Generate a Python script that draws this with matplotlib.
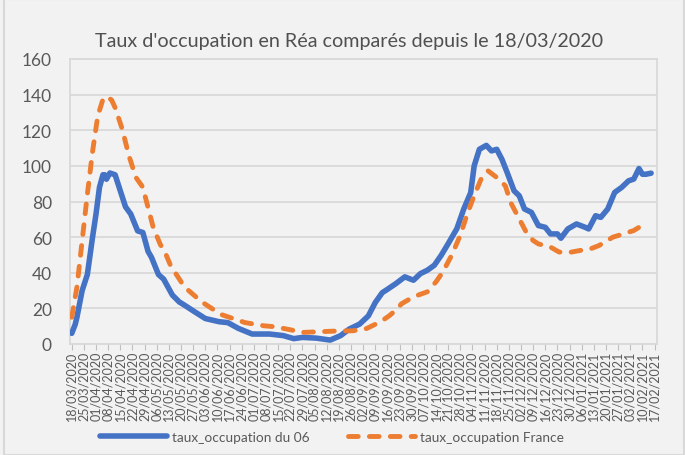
import datetime as dt
import matplotlib
matplotlib.use("Agg")
import matplotlib.pyplot as plt
from matplotlib.lines import Line2D
from matplotlib.patches import Rectangle

title = "Taux d'occupation en Réa comparés depuis le 18/03/2020"
label_06 = "taux_occupation du 06"
label_fr = "taux_occupation France"

start = dt.date(2020, 3, 18)

# days since 18/03/2020
days_06 = [0, 2, 3, 6, 9, 12, 14, 16, 18, 19, 20, 22, 25, 28, 31, 34, 38, 41, 44, 46,
           50, 53, 58, 62, 65, 71, 77, 85, 90, 96, 104, 111, 114, 122, 128, 133, 141,
           149, 155, 160, 166, 171, 175, 179, 182, 187, 192, 197, 201, 205, 209, 213,
           217, 222, 226, 230, 232, 235, 239, 242, 245, 248, 251, 255, 258, 261, 265,
           269, 273, 276, 280, 282, 286, 291, 296, 298, 302, 305, 309, 313, 317, 321,
           324, 327, 329, 331, 334]
occ_06 = [6, 11, 15, 30, 39, 60, 73, 88, 95, 95, 92.5, 96, 95, 86, 77, 73, 63.5, 62.6,
          52, 48.6, 39, 36.4, 27.5, 23.6, 21.8, 18, 14.3, 12.5, 12, 8.8, 5.6, 5.6, 5.6,
          4.7, 3, 3.7, 3.3, 2.2, 4.7, 8.4, 11.2, 15.8, 23.3, 28.8, 30.7, 34, 37.7, 35.8,
          39.5, 41.4, 44.2, 49.8, 56.3, 64.7, 75.8, 85, 100, 109.3, 111.5, 108.4, 109.3,
          103.7, 96.3, 86, 83.2, 75.8, 73.9, 66.5, 65.5, 61.8, 61.8, 59.4, 64.6, 67.4,
          65.5, 64.6, 72, 71.1, 75.8, 85.1, 87.9, 91.6, 92.6, 98.5, 95.3, 95.3, 95.9]

days_fr = [0, 3, 6, 9, 12, 15, 18, 20, 23, 25, 29, 33, 37, 41, 44, 47, 51, 54, 57, 59,
           65, 75, 86, 100, 111, 117, 126, 133, 143, 153, 162, 170, 178, 183, 188, 190,
           197, 205, 210, 214, 219, 224, 228, 232, 236, 240, 245, 250, 253, 258, 262,
           266, 269, 276, 281, 288, 293, 299, 304, 312, 318, 324, 328]
occ_fr = [15, 32, 58, 84, 108, 128, 137.4, 139, 137, 132.7, 121, 105.6, 93.5, 88, 76.6,
          65.4, 56, 51, 44, 41, 32, 23.6, 16.6, 12, 10.2, 9.7, 8, 6.5, 6.9, 7.3, 7.4,
          8.7, 12.5, 15.8, 20, 22.5, 26.5, 29.3, 34.9, 40.5, 49.8, 61, 73, 83.3, 92.6,
          97.2, 93.5, 88.8, 79.5, 70.2, 62.8, 58.1, 56.2, 54.4, 51.6, 51.6, 52.5, 53.4,
          55.3, 60, 61.8, 63.7, 66.1]

tick_labels = ["18/03/2020", "25/03/2020", "01/04/2020", "08/04/2020", "15/04/2020",
               "22/04/2020", "29/04/2020", "06/05/2020", "13/05/2020", "20/05/2020",
               "27/05/2020", "03/06/2020", "10/06/2020", "17/06/2020", "24/06/2020",
               "01/07/2020", "08/07/2020", "15/07/2020", "22/07/2020", "29/07/2020",
               "05/08/2020", "12/08/2020", "19/08/2020", "26/08/2020", "02/09/2020",
               "09/09/2020", "16/09/2020", "23/09/2020", "30/09/2020", "07/10/2020",
               "14/10/2020", "21/10/2020", "28/10/2020", "04/11/2020", "11/11/2020",
               "18/11/2020", "25/11/2020", "02/12/2020", "09/12/2020", "16/12/2020",
               "23/12/2020", "30/12/2020", "06/01/2021", "13/01/2021", "20/01/2021",
               "27/01/2021", "03/02/2021", "10/02/2021", "17/02/2021"]
y_ticks = [0, 20, 40, 60, 80, 100, 120, 140, 160]

blue = "#4472C4"
orange = "#ED7D31"
grid = "#D9D9D9"
txt = "#595959"

plt.rcParams['font.family'] = ['Lato', 'DejaVu Sans']

fig = plt.figure(figsize=(6.85, 4.56), dpi=100, facecolor="#F2F2F2")
ax = fig.add_axes([70 / 685, 1 - 345 / 456, 587 / 685, 285 / 456])
ax.set_facecolor("#F2F2F2")

x06 = [(start + dt.timedelta(days=d) - start).days for d in days_06]
xfr = [(start + dt.timedelta(days=d) - start).days for d in days_fr]

dash = (0, (2.0, 2.3))
ax.plot(x06, occ_06, color=blue, lw=4.0, solid_capstyle="round",
        solid_joinstyle="round", zorder=3)
ax.plot(xfr, occ_fr, color=orange, lw=3.5, linestyle=dash,
        dash_capstyle="round", zorder=3)

ax.set_ylim(0, 160)
ax.set_yticks(y_ticks)
ax.set_xlim(-1.0, 337.4)
ticks = [7 * i for i in range(len(tick_labels))]
ax.set_xticks(ticks)
ax.set_xticklabels(tick_labels, rotation=90, fontsize=9, color=txt)
ax.tick_params(axis="x", direction="out", length=4, width=0.8, color="#BFBFBF", pad=1)
ax.tick_params(axis="y", length=0, pad=13, labelsize=12.5, labelcolor=txt)
ax.grid(axis="y", color=grid, lw=1.3, zorder=0)
for s in ax.spines.values():
    s.set_color(grid)
    s.set_linewidth(1.3)

fig.text(349 / 685, 1 - 42 / 456, title, ha="center", va="center", fontsize=14.2,
         color="#505050")

handles = [Line2D([0], [0], color=blue, lw=4.0, solid_capstyle="round"),
           Line2D([0], [0], color=orange, lw=3.5, linestyle=dash, dash_capstyle="round")]
fig.legend(handles, [label_06, label_fr], loc="center", bbox_to_anchor=(332 / 685, 1 - 438 / 456),
           ncol=2, frameon=False, fontsize=9.8, labelcolor=txt, handlelength=4.9,
           handletextpad=0.4, columnspacing=2.8)

fig.patches.append(Rectangle((4 / 685, 0), 680 / 685, 1, transform=fig.transFigure,
                             fill=False, edgecolor=grid, lw=1.5))

fig.savefig("out.png", dpi=100, facecolor=fig.get_facecolor())
